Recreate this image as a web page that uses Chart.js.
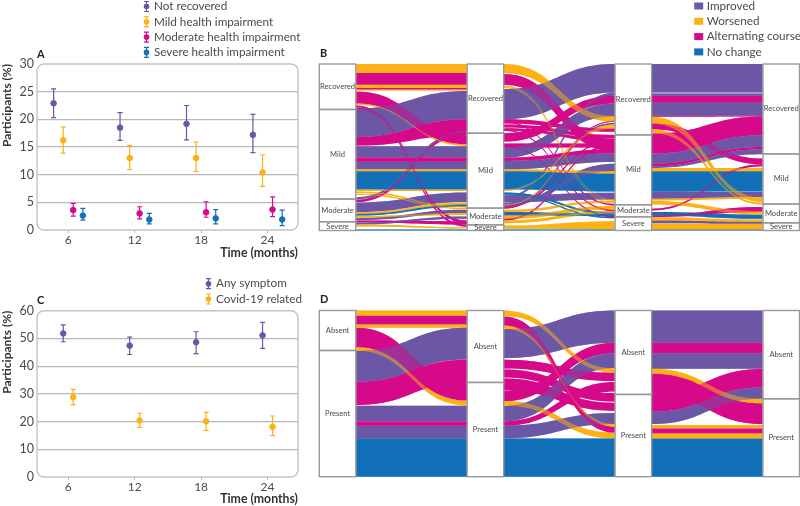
<!DOCTYPE html>
<html>
<head>
<meta charset="utf-8">
<style>
  html, body { margin: 0; padding: 0; background: #fff; }
  body { width: 800px; height: 506px; position: relative; overflow: hidden; }
  canvas { position: absolute; }
</style>
<script src="https://cdn.jsdelivr.net/npm/chart.js@4/dist/chart.umd.min.js"></script>
</head>
<body>
<canvas id="panelA" width="310" height="260" style="left:0;top:0"></canvas>
<canvas id="panelC" width="310" height="244" style="left:0;top:262px"></canvas>
<canvas id="panelB" width="482" height="233" style="left:318px;top:0"></canvas>
<canvas id="panelD" width="482" height="190" style="left:318px;top:290px"></canvas>
<script>
const months = [6, 12, 18, 24];

// panel A, % of participants
const notRecovered = [22.9, 18.5, 19.2, 17.2];
const notRecoveredLow = [20.3, 16.2, 16.3, 14.0];
const notRecoveredHigh = [25.5, 21.2, 22.5, 20.9];
const mildImpair = [16.2, 13.0, 13.0, 10.4];
const mildImpairLow = [13.9, 10.9, 10.6, 7.9];
const mildImpairHigh = [18.6, 15.3, 15.9, 13.6];
const moderateImpair = [3.6, 3.0, 3.2, 3.7];
const moderateImpairLow = [2.5, 2.0, 2.3, 2.4];
const moderateImpairHigh = [4.8, 4.2, 5.1, 6.0];
const severeImpair = [2.6, 1.9, 2.1, 1.9];
const severeImpairLow = [1.8, 1.1, 1.1, 0.8];
const severeImpairHigh = [3.9, 3.0, 3.7, 3.6];

// panel C, % of participants
const anySymptom = [51.8, 47.4, 48.6, 51.1];
const anySymptomLow = [48.8, 44.2, 44.5, 46.4];
const anySymptomHigh = [54.9, 50.5, 52.4, 55.8];
const covidRelated = [28.8, 20.4, 20.1, 18.1];
const covidRelatedLow = [26.1, 17.9, 16.8, 14.9];
const covidRelatedHigh = [31.6, 23.0, 23.3, 22.0];

// alluvial boxes, number of participants in each state at each time point
const statesB = ['Recovered', 'Mild', 'Moderate', 'Severe'];
const recoveredB = [136, 207, 212, 269];
const mildB = [268, 224, 209, 150];
const moderateB = [68, 50, 36, 56];
const severeB = [26, 17, 41, 23];
const statesD = ['Absent', 'Present'];
const absentD = [120, 216, 252, 265];
const presentD = [379, 283, 247, 234];

// alluvial flows: course, from top, from bottom, to top, to bottom (cumulative participants)
const flowsB1 = [
  ['wor', 0, 27, 0, 27], ['alt', 27, 62, 27, 62], ['wor', 62, 72, 62, 72], ['alt', 72, 76, 72, 76],
  ['wor', 76, 79, 76, 79], ['alt', 82, 118, 213, 240], ['wor', 118, 122, 240, 245], ['alt', 124, 129, 468, 476],
  ['alt', 130, 135, 481, 487], ['imp', 133, 218, 81, 165], ['alt', 218, 244, 165, 213], ['imp', 246, 280, 246, 280],
  ['alt', 280, 292, 280, 292], ['imp', 292, 315, 292, 315], ['wor', 315, 321, 315, 321], ['noc', 321, 375, 321, 375],
  ['wor', 375, 380, 375, 380], ['wor', 381, 386, 425, 429], ['wor', 388, 392, 430, 434], ['alt', 406, 413, 205, 212],
  ['imp', 399, 405, 200, 206], ['imp', 414, 443, 384, 413], ['wor', 443, 448, 414, 420], ['noc', 448, 453, 420, 426],
  ['wor', 455, 460, 446, 452], ['imp', 461, 467, 436, 446], ['alt', 468, 473, 470, 480], ['imp', 474, 480, 456, 463],
  ['wor', 480, 486, 488, 492], ['noc', 495, 498, 495, 498]
];
const flowsB2 = [
  ['wor', 0, 27, 156, 173], ['alt', 30, 62, 225, 262], ['wor', 64, 68, 406, 409], ['wor', 69, 72, 415, 418],
  ['imp', 75, 165, 0, 85], ['alt', 165, 178, 193, 203], ['alt', 181, 190, 212, 222], ['alt', 192, 200, 223, 233],
  ['alt', 207, 232, 95, 118], ['alt', 238, 250, 238, 250], ['imp', 250, 280, 118, 156], ['alt', 280, 290, 255, 268],
  ['imp', 290, 315, 268, 293], ['wor', 315, 321, 320, 328], ['noc', 321, 375, 328, 381], ['wor', 375, 380, 186, 193],
  ['noc', 384, 390, 443, 449], ['imp', 393, 413, 385, 405], ['imp', 396, 402, 85, 95], ['imp', 414, 423, 298, 320],
  ['alt', 423, 430, 228, 232], ['wor', 436, 443, 409, 414], ['noc', 443, 453, 449, 455], ['wor', 453, 463, 425, 435],
  ['alt', 463, 468, 240, 245], ['wor', 468, 476, 440, 448], ['wor', 483, 493, 470, 495], ['noc', 495, 498, 495, 498],
  ['alt', 172, 175, 419, 423], ['alt', 197, 200, 437, 441], ['alt', 246, 249, 455, 459], ['alt', 430, 433, 170, 173],
  ['wor', 420, 424, 180, 186], ['imp', 427, 431, 176, 180], ['noc', 390, 393, 457, 461]
];
const flowsB3 = [
  ['imp', 0, 85, 0, 85], ['imp', 88, 95, 88, 95], ['alt', 95, 116, 95, 116], ['imp', 116, 155, 116, 155],
  ['alt', 155, 158, 155, 157], ['wor', 158, 178, 400, 413], ['alt', 178, 195, 283, 300], ['wor', 195, 207, 415, 420],
  ['alt', 208, 268, 157, 213], ['imp', 268, 298, 213, 248], ['alt', 298, 306, 248, 255], ['imp', 306, 311, 255, 270],
  ['wor', 311, 321, 311, 321], ['noc', 321, 381, 321, 381], ['imp', 381, 403, 383, 398], ['wor', 403, 408, 398, 403],
  ['wor', 410, 420, 440, 450], ['alt', 433, 438, 300, 306], ['noc', 443, 453, 451, 463], ['alt', 453, 458, 428, 443],
  ['wor', 458, 468, 465, 472], ['imp', 468, 476, 472, 478], ['wor', 478, 496, 478, 496], ['noc', 495, 498, 495, 498]
];
const flowsD1 = [
  ['wor', 0, 16, 0, 16], ['alt', 16, 42, 16, 42], ['wor', 42, 52, 42, 52], ['alt', 52, 110, 217, 270],
  ['wor', 110, 121, 270, 285], ['imp', 121, 214, 52, 147], ['alt', 214, 284, 148, 217], ['imp', 286, 333, 286, 333],
  ['alt', 333, 346, 333, 346], ['imp', 346, 384, 346, 384], ['noc', 384, 499, 384, 499]
];
const flowsD2 = [
  ['wor', 0, 16, 174, 187], ['alt', 18, 45, 349, 367], ['wor', 45, 55, 341, 349], ['imp', 56, 143, 0, 97],
  ['alt', 148, 174, 187, 212], ['alt', 177, 201, 248, 273], ['alt', 204, 240, 277, 301], ['alt', 242, 272, 97, 128],
  ['wor', 272, 285, 367, 384], ['imp', 286, 333, 128, 173], ['alt', 333, 346, 215, 243], ['imp', 346, 384, 308, 341],
  ['noc', 384, 499, 384, 499]
];
const flowsD3 = [
  ['imp', 0, 97, 0, 97], ['alt', 97, 128, 97, 128], ['imp', 128, 175, 128, 175], ['wor', 175, 190, 265, 279],
  ['alt', 190, 250, 279, 341], ['alt', 250, 304, 176, 231], ['imp', 304, 341, 231, 265], ['wor', 344, 354, 344, 354],
  ['alt', 354, 369, 354, 369], ['wor', 369, 384, 369, 384], ['noc', 384, 499, 384, 499]
];

const purple = '#6b57a5', orange = '#fdb115', magenta = '#d6098a', blue = '#1170b8';
const courseColors = { imp: purple, wor: orange, alt: magenta, noc: blue };
const fontName = 'Lato, sans-serif';
const textColor = '#4a4a4a';

Chart.defaults.animation = false;
Chart.defaults.font.family = fontName;
Chart.defaults.plugins.legend.display = false;
Chart.defaults.plugins.tooltip.enabled = false;

// error bars and the rounded plot frame for panels A and C
const errorBarPlugin = {
  id: 'errorBars',
  beforeDatasetsDraw(chart) {
    const { ctx, chartArea: a, scales } = chart;
    ctx.save();
    ctx.strokeStyle = '#c4c4c4';
    ctx.lineWidth = 1.4;
    ctx.beginPath();
    ctx.roundRect(a.left, a.top, a.width, a.height, 7);
    ctx.stroke();
    chart.data.datasets.forEach(ds => {
      ctx.strokeStyle = ds.backgroundColor;
      ctx.lineWidth = 1.2;
      ds.data.forEach((p, i) => {
        const x = scales.x.getPixelForValue(p.x);
        const lo = scales.y.getPixelForValue(ds.low[i]);
        const hi = scales.y.getPixelForValue(ds.high[i]);
        ctx.beginPath();
        ctx.moveTo(x, lo); ctx.lineTo(x, hi);
        ctx.moveTo(x - 2.5, lo); ctx.lineTo(x + 2.5, lo);
        ctx.moveTo(x - 2.5, hi); ctx.lineTo(x + 2.5, hi);
        ctx.stroke();
      });
    });
    ctx.restore();
  }
};

// letter and legend on top of the panel
const panelTextPlugin = {
  id: 'panelText',
  afterDraw(chart, args, opts) {
    const ctx = chart.ctx;
    ctx.save();
    ctx.textBaseline = 'middle';
    ctx.textAlign = 'left';
    ctx.fillStyle = '#222';
    ctx.font = 'bold 11px ' + fontName;
    ctx.fillText(opts.letter, opts.letterX, opts.letterY);
    ctx.font = '11.7px ' + fontName;
    opts.items.forEach((item, i) => {
      const y = opts.y + i * 15.3;
      ctx.fillStyle = item.color;
      ctx.strokeStyle = item.color;
      if (opts.squares) {
        ctx.fillRect(opts.x - 12.5, y - 3.5, 9, 7);
      } else {
        ctx.lineWidth = 1.2;
        ctx.beginPath();
        ctx.moveTo(opts.x - 7.5, y - 5); ctx.lineTo(opts.x - 7.5, y + 5);
        ctx.moveTo(opts.x - 10, y - 5); ctx.lineTo(opts.x - 5, y - 5);
        ctx.moveTo(opts.x - 10, y + 5); ctx.lineTo(opts.x - 5, y + 5);
        ctx.stroke();
        ctx.beginPath();
        ctx.arc(opts.x - 7.5, y, 2.8, 0, Math.PI * 2);
        ctx.fill();
      }
      ctx.fillStyle = textColor;
      ctx.fillText(item.label, opts.x, y);
    });
    ctx.restore();
  }
};

// ribbons between the boxes, second pass gives the see-through crossings
const flowPlugin = {
  id: 'flows',
  beforeDatasetsDraw(chart, args, opts) {
    const { ctx, scales } = chart;
    const half = opts.boxHalf;
    const ribbon = (stage, f) => {
      const x0 = scales.x.getPixelForValue(stage) + half;
      const x1 = scales.x.getPixelForValue(stage + 1) - half;
      const mid = (x0 + x1) / 2;
      const [a, b, c, d] = [f[1], f[2], f[3], f[4]].map(v => scales.y.getPixelForValue(v));
      ctx.fillStyle = courseColors[f[0]];
      ctx.beginPath();
      ctx.moveTo(x0, a);
      ctx.bezierCurveTo(mid, a, mid, c, x1, c);
      ctx.lineTo(x1, d);
      ctx.bezierCurveTo(mid, d, mid, b, x0, b);
      ctx.closePath();
      ctx.fill();
    };
    ctx.save();
    opts.groups.forEach((flows, stage) => flows.forEach(f => ribbon(stage, f)));
    ctx.globalAlpha = 0.5;
    opts.groups.forEach((flows, stage) => [...flows].reverse().forEach(f => ribbon(stage, f)));
    ctx.restore();
  },
  afterDatasetsDraw(chart) {
    const ctx = chart.ctx;
    ctx.save();
    ctx.font = '7.6px ' + fontName;
    ctx.textAlign = 'center';
    ctx.textBaseline = 'middle';
    ctx.strokeStyle = '#9a9a9a';
    ctx.lineWidth = 1.4;
    chart.data.datasets.forEach((ds, i) => {
      chart.getDatasetMeta(i).data.forEach(bar => {
        ctx.strokeRect(bar.x - bar.width / 2, Math.min(bar.y, bar.base), bar.width, Math.abs(bar.base - bar.y));
        const c = bar.getCenterPoint();
        ctx.fillStyle = textColor;
        ctx.fillText(ds.label, c.x, c.y);
      });
    });
    ctx.restore();
  }
};

function scatterSet(values, low, high, dodge, color) {
  return {
    data: values.map((v, i) => ({ x: months[i] + dodge, y: v })),
    low, high,
    backgroundColor: color,
    borderColor: color,
    pointRadius: 2.8,
    pointHoverRadius: 2.8
  };
}

function errorChart(id, datasets, yMax, yStep, padTop, xHeight, panelText) {
  new Chart(document.getElementById(id), {
    type: 'scatter',
    data: { datasets },
    plugins: [errorBarPlugin, panelTextPlugin],
    options: {
      responsive: false,
      layout: { padding: { top: padTop, right: 12 } },
      plugins: { panelText },
      scales: {
        x: {
          type: 'linear', min: 3.18, max: 26.75,
          afterBuildTicks: s => { s.ticks = months.map(value => ({ value })); },
          afterFit: s => { s.height = xHeight; },
          border: { display: false },
          grid: { drawOnChartArea: false, color: '#b5b5b5', tickLength: 3 },
          ticks: { color: textColor, font: { size: 12 }, padding: 0, maxRotation: 0 },
          title: { display: true, text: 'Time (months)', align: 'end', color: '#333', font: { size: 12.3, weight: 'bold' }, padding: { top: 0, bottom: 0 } }
        },
        y: {
          min: 0, max: yMax,
          afterFit: s => { s.width = 37; },
          border: { display: false },
          grid: {
            drawTicks: false, lineWidth: 1.2,
            color: c => (c.tick.value === 0 || c.tick.value === yMax) ? 'transparent' : '#b8b8b8'
          },
          ticks: { stepSize: yStep, color: textColor, font: { size: 12.5 }, padding: 3 },
          title: { display: true, text: 'Participants (%)', align: 'end', color: '#333', font: { size: 12, weight: 'bold' }, padding: 0 }
        }
      }
    }
  });
}

function boxSet(label, sizes) {
  return {
    label,
    data: sizes.map((v, i) => ({ x: i, y: v })),
    backgroundColor: '#fff',
    borderWidth: 0,
    barThickness: 36.5
  };
}

function alluvialChart(id, states, sizes, groups, yMax, padding, panelText) {
  new Chart(document.getElementById(id), {
    type: 'bar',
    data: { datasets: states.map((s, i) => boxSet(s, sizes[i])) },
    plugins: [flowPlugin, panelTextPlugin],
    options: {
      responsive: false,
      layout: { padding },
      plugins: { flows: { groups, boxHalf: 18 }, panelText },
      scales: {
        x: { type: 'linear', display: false, stacked: true, offset: false, min: -0.122, max: 3.122 },
        y: { display: false, stacked: true, reverse: true, min: 0, max: yMax }
      }
    }
  });
}

errorChart('panelA', [
  scatterSet(notRecovered, notRecoveredLow, notRecoveredHigh, -1.32, purple),
  scatterSet(mildImpair, mildImpairLow, mildImpairHigh, -0.45, orange),
  scatterSet(moderateImpair, moderateImpairLow, moderateImpairHigh, 0.45, magenta),
  scatterSet(severeImpair, severeImpairLow, severeImpairHigh, 1.32, blue)
], 30, 5, 64, 30, {
  letter: 'A', letterX: 37, letterY: 54, x: 154, y: 6.5,
  items: [
    { label: 'Not recovered', color: purple },
    { label: 'Mild health impairment', color: orange },
    { label: 'Moderate health impairment', color: magenta },
    { label: 'Severe health impairment', color: blue }
  ]
});

errorChart('panelC', [
  scatterSet(anySymptom, anySymptomLow, anySymptomHigh, -0.45, purple),
  scatterSet(covidRelated, covidRelatedLow, covidRelatedHigh, 0.45, orange)
], 60, 10, 48.7, 29, {
  letter: 'C', letterX: 37, letterY: 38, x: 216, y: 21.7,
  items: [
    { label: 'Any symptom', color: purple },
    { label: 'Covid-19 related', color: orange }
  ]
});

const courseLegend = [
  { label: 'Improved', color: purple },
  { label: 'Worsened', color: orange },
  { label: 'Alternating course', color: magenta },
  { label: 'No change', color: blue }
];

alluvialChart('panelB', statesB, [recoveredB, mildB, moderateB, severeB], [flowsB1, flowsB2, flowsB3], 498,
  { top: 64, bottom: 2.5, left: 1.5, right: 0.7 },
  { letter: 'B', letterX: 2, letterY: 53, x: 388.7, y: 6, items: courseLegend, squares: true });

alluvialChart('panelD', statesD, [absentD, presentD], [flowsD1, flowsD2, flowsD3], 499,
  { top: 20.5, bottom: 3.3, left: 1.5, right: 0.7 },
  { letter: 'D', letterX: 2, letterY: 9, x: 0, y: 0, items: [], squares: true });
</script>
</body>
</html>
